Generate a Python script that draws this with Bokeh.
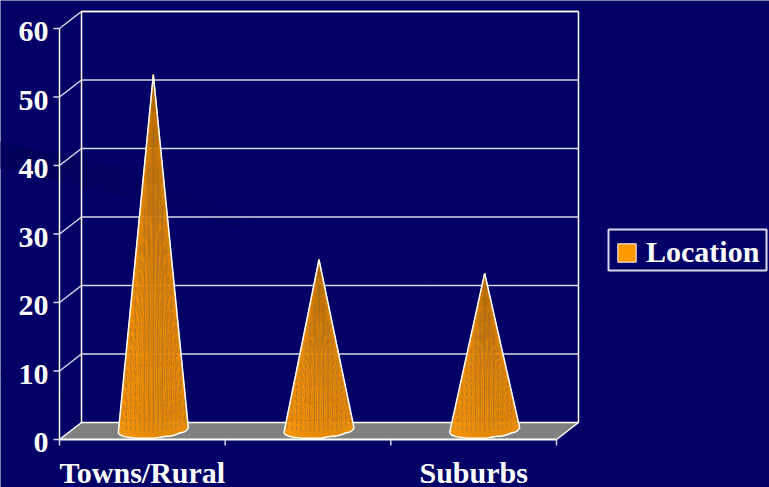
import numpy as np
from bokeh.embed import file_html
from bokeh.models import ColumnDataSource, Legend, LegendItem, Range1d
from bokeh.plotting import figure
from bokeh.core.properties import value
from bokeh.resources import INLINE

# Chart values
categories = ["Towns/Rural", "", "Suburbs"]
series_name = "Location"
location_values = [52, 25, 23]
tick_values = [0, 10, 20, 30, 40, 50, 60]

# Colours and type
BG = "#000066"
WHITE = "#ffffff"
GRID = "#d8d8e8"
FLOOR = "#808080"
ORANGE = "#ff9900"
FONT = value("Liberation Serif")
FONT_SIZE = value("30px")

# Scales: one category is 165.67 px wide, one value unit is 6.85 px high
W, H = 769, 487
PX_X = 497 / 3
PX_Y = 411 / 60
x_start = -59 / PX_X
y_start = -48 / PX_Y
DX = 22 / PX_X   # depth offset of the back wall
DY = 17 / PX_Y

p = figure(
    width=W, height=H, output_backend="svg", toolbar_location=None,
    x_range=Range1d(x_start, x_start + W / PX_X),
    y_range=Range1d(y_start, y_start + H / PX_Y),
    min_border=0, background_fill_color=BG, border_fill_color=BG,
    outline_line_color=None,
)
p.xaxis.visible = False
p.yaxis.visible = False
p.grid.visible = False


def px(x):
    return x_start + np.asarray(x, dtype=float) / PX_X


def py(y):
    return y_start + (H - np.asarray(y, dtype=float)) / PX_Y


# Backdrop: a dark band fading out to the right, in page pixels
band_x = [0, 60, 120, 180, 240, 300]
band_top = [142, 154, 167, 192, 212, 237]
band_low = [168, 181, 195, 209, 227, 246]
band_colours = ["#00005c", "#00005d", "#00005f", "#000061", "#000064"]
for k, colour in enumerate(band_colours):
    p.patch(px([band_x[k], band_x[k + 1], band_x[k + 1], band_x[k]]),
            py([band_top[k], band_top[k + 1], band_low[k + 1], band_low[k]]),
            fill_color=colour, line_color=colour, line_width=0.5)
# Thin streaks continuing across the slide
streaks = [
    ([0, 140, 250, 320], [142, 172, 217, 245], "#00005e"),
    ([320, 430, 540, 660, 769], [245, 262, 288, 340, 393], "#04046a"),
    ([0, 80, 173, 267], [168, 185, 207, 235], "#00005e"),
    ([267, 400, 520, 650, 769], [235, 272, 312, 365, 423], "#06066c"),
    ([280, 400, 520, 640, 769], [20, 32, 50, 78, 115], "#04046a"),
    ([0, 90, 170, 235], [375, 402, 445, 487], "#00005e"),
]
for xs, ys, colour in streaks:
    p.line(px(xs), py(ys), line_color=colour, line_width=1.2, line_dash="6 2")

# Floor, back wall and gridlines
n = len(categories)
p.patch([0, n, n + DX, DX], [0, 0, DY, DY], fill_color=FLOOR, line_color=None)
top = tick_values[-1]
for v in tick_values[1:]:
    p.line([0, DX, n + DX], [v, v + DY, v + DY], line_color=GRID, line_width=1.5)
p.line([0, DX, n + DX, n], [0, DY, DY, 0], line_color=WHITE, line_width=1.5)
p.line([DX, DX], [DY, top + DY], line_color=WHITE, line_width=1.5)
p.line([n + DX, n + DX], [DY, top + DY], line_color=WHITE, line_width=1.5)
p.line([DX, n + DX], [top + DY, top + DY], line_color=WHITE, line_width=1.5)

# Front axes with tick marks
p.line([0, 0], [0, top], line_color=WHITE, line_width=1.5)
p.line([0, n], [0, 0], line_color=WHITE, line_width=2)
p.segment(x0=[-6 / PX_X] * len(tick_values), y0=tick_values, x1=[0] * len(tick_values),
          y1=tick_values, line_color=GRID, line_width=1.5)
p.segment(x0=list(range(n + 1)), y0=[0] * (n + 1), x1=list(range(n + 1)),
          y1=[-6 / PX_Y] * (n + 1), line_color=GRID, line_width=1.5)


def shade(t, level):
    """Orange of a cone facet: t runs left to right, level from base to tip."""
    b = 1.0 - 0.09 * np.sin(min(t * 1.6, 1.0) * np.pi / 2)
    if t > 0.8:
        b += 0.2 * (t - 0.8)
    b *= 1.0 - 0.26 * level ** 3
    return "#%02x%02x%02x" % (int(255 * b), int(153 * b), int(6 * b))


# Cones, built from facets between the rim and the apex, with fine vertical ribs
R_X = 35 / PX_X
R_Y = 8 / PX_Y
TILT = 2.4 / PX_Y
N_STRIPS, N_LEVELS = 40, 10
rib_fractions = np.linspace(-0.9, 0.9, 15)
for i, val in enumerate(location_values):
    cx = i + 0.5 + DX / 2
    cy = DY / 2 + 0.15
    th = np.linspace(np.pi, 0, N_STRIPS + 1)
    rim_x = cx + R_X * np.cos(th)
    # lower rim, a little uneven and rising to the right
    rim_y = cy - R_Y * np.sin(th) + TILT * np.cos(th) + 0.04 * np.sin(th * 11) * (np.cos(th) > 0)
    apex_x, apex_y = cx, val + DY / 2
    xs, ys, colours = [], [], []
    for s in range(N_STRIPS):
        for l in range(N_LEVELS):
            f0, f1 = l / N_LEVELS, (l + 1) / N_LEVELS
            xs.append([rim_x[s] + (apex_x - rim_x[s]) * f0,
                       rim_x[s + 1] + (apex_x - rim_x[s + 1]) * f0,
                       rim_x[s + 1] + (apex_x - rim_x[s + 1]) * f1,
                       rim_x[s] + (apex_x - rim_x[s]) * f1])
            ys.append([rim_y[s] + (apex_y - rim_y[s]) * f0,
                       rim_y[s + 1] + (apex_y - rim_y[s + 1]) * f0,
                       rim_y[s + 1] + (apex_y - rim_y[s + 1]) * f1,
                       rim_y[s] + (apex_y - rim_y[s]) * f1])
            colours.append(shade((np.cos(np.pi * (1 - (s + 0.5) / N_STRIPS)) + 1) / 2,
                                 (l + 0.5) / N_LEVELS))
    p.patches(xs, ys, fill_color=colours, line_color=colours, line_width=0.4)
    for fr in rib_fractions:
        rib_x = cx + R_X * fr
        base = np.interp(rib_x, rim_x, rim_y) + 1.0
        level = (1 - abs(fr)) * 0.85
        rib_top = base + (apex_y - base) * level
        p.line([rib_x, rib_x], [base, rib_top], line_color="#6e6452", line_alpha=0.5,
               line_width=0.8, line_dash="solid" if abs(fr) < 0.35 else "5 2")
    # white silhouette of the cone
    p.line([apex_x] + list(rim_x) + [apex_x], [apex_y] + list(rim_y) + [apex_y],
           line_color=WHITE, line_width=1.5, line_join="round")

# Tick labels
p.text(x=[-11 / PX_X] * len(tick_values), y=tick_values,
       text=[str(v) for v in tick_values], text_color=WHITE, text_font=FONT,
       text_font_style="bold", text_font_size=FONT_SIZE, text_align="right",
       text_baseline="alphabetic", y_offset=3)
cat_src = ColumnDataSource(dict(
    x=[i + 0.5 for i, c in enumerate(categories) if c],
    y=[0 for c in categories if c],
    t=[c for c in categories if c],
))
p.text(x="x", y="y", text="t", source=cat_src, text_color=WHITE, text_font=FONT,
       text_font_style="bold", text_font_size=FONT_SIZE, text_align="center",
       text_baseline="alphabetic", y_offset=33)

# Legend frame and key
p.quad(left=px([608]), right=px([766]), top=py([229]), bottom=py([270]),
       fill_color=BG, line_color=GRID, line_width=2)
key = p.quad(left=[np.nan], right=[np.nan], top=[np.nan], bottom=[np.nan],
             fill_color=ORANGE, line_color=WHITE, line_width=1)
legend = Legend(
    items=[LegendItem(label=series_name, renderers=[key])],
    location=(615, 218), margin=0, padding=3, spacing=0,
    glyph_width=23, glyph_height=23, label_standoff=8, label_width=110,
    label_text_color=WHITE, label_text_font="Liberation Serif",
    label_text_font_style="bold", label_text_font_size="30px",
    background_fill_alpha=0, border_line_color=None,
)
p.add_layout(legend, "center")

open("out.html", "w").write(file_html(p, INLINE))
